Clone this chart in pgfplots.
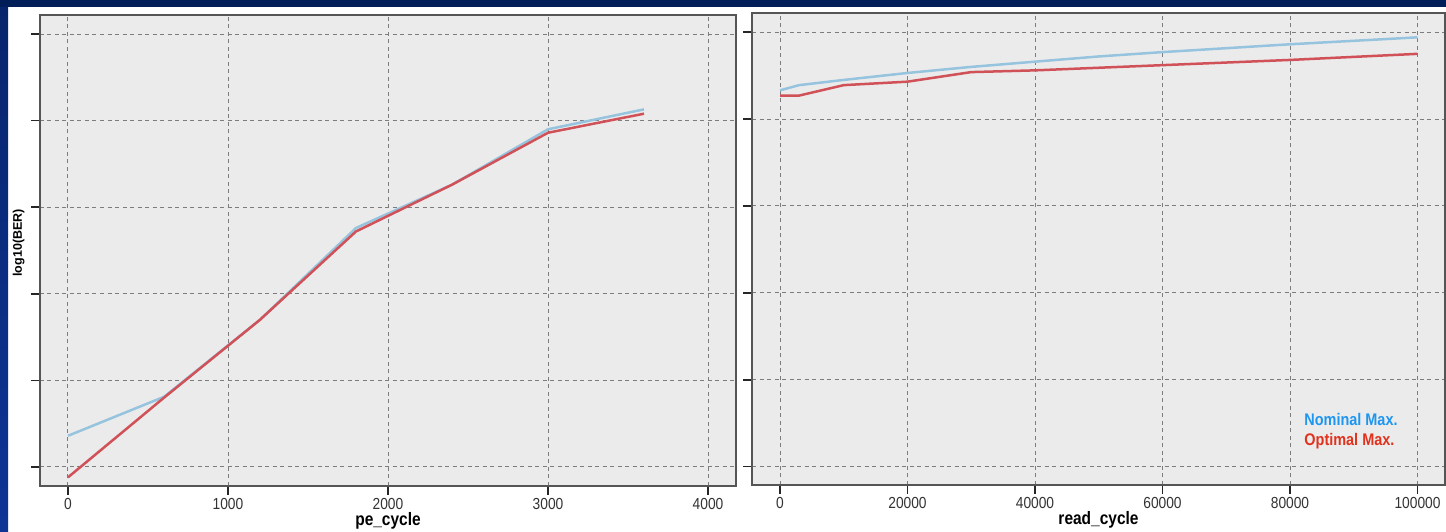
\documentclass[border=0pt]{standalone}
\usepackage{fontspec}
\setmainfont{Liberation Sans}
\newfontfamily\narrowsans[FakeStretch=0.86]{Liberation Sans}
\usepackage{pgfplots}
\usepackage{pgfplotstable}
\pgfplotsset{compat=1.18}

\definecolor{slidenavy}{RGB}{2,30,88}
\definecolor{stripTop}{RGB}{8,36,108}
\definecolor{stripBot}{RGB}{14,52,150}
\definecolor{panelbg}{RGB}{235,235,235}
\definecolor{gridc}{RGB}{125,125,125}
\definecolor{framec}{RGB}{85,85,85}
\definecolor{nomline}{RGB}{150,196,222}
\definecolor{optline}{RGB}{208,82,88}
\definecolor{nomtext}{RGB}{30,150,240}
\definecolor{opttext}{RGB}{225,50,30}

% log10(BER) against program/erase cycles
\pgfplotstableread{
pe    nominal optimal
0     0.36    -0.12
600   0.81    0.80
1200  1.70    1.70
1800  2.76    2.72
2400  3.26    3.26
3000  3.90    3.86
3600  4.13    4.08
}\pecycle

% log10(BER) against read cycles
\pgfplotstableread{
rd      nominal optimal
0       4.33    4.27
3000    4.39    4.27
10000   4.45    4.39
20000   4.53    4.43
30000   4.60    4.54
40000   4.66    4.56
50000   4.72    4.59
60000   4.77    4.62
80000   4.86    4.68
100000  4.94    4.75
}\readcycle

\pgfplotsset{
  panel/.style={
    scale only axis, anchor=south west,
    axis background/.style={fill=panelbg},
    axis line style={framec, line width=1.5pt},
    grid=major,
    major grid style={gridc, line width=1pt, dash pattern=on 4pt off 3.5pt},
    tick align=outside, xtick pos=bottom, ytick pos=left,
    major tick length=9pt,
    every tick/.style={black!85, line width=1.5pt},
    ytick={0,1,2,3,4,5}, yticklabels={},
    scaled ticks=false,
    ticklabel style={font=\narrowsans\fontsize{16}{18}\selectfont, text=black!80},
    every axis x label/.style={at={(axis description cs:0.5,-0.0743)}, anchor=center,
      font=\narrowsans\bfseries\fontsize{18}{20}\selectfont},
    every axis y label/.style={at={(axis description cs:-0.0172,0.516)}, rotate=90, anchor=south,
      font=\bfseries\fontsize{12.5}{14}\selectfont},
  },
  nom/.style={nomline, line width=2.5pt, no marks},
  opt/.style={optline, line width=2.5pt, no marks},
}

\begin{document}
\begin{tikzpicture}[x=1pt,y=1pt]
\useasboundingbox (0,0) rectangle (1446,532);
\fill[white] (0,0) rectangle (1446,532);
\shade[top color=stripTop, bottom color=stripBot] (0,0) rectangle (8,532);
\fill[slidenavy] (0,525) rectangle (1446,532);

\begin{axis}[panel,
  at={(40pt,46pt)}, width=696pt, height=471pt,
  xmin=-175, xmax=4175, ymin=-0.22, ymax=5.22,
  xtick={0,1000,2000,3000,4000},
  xticklabels={0,1000,2000,3000,4000},
  xlabel={pe\_cycle}, ylabel={log10(BER)}]
\addplot[nom] table[x=pe, y=nominal] {\pecycle};
\addplot[opt] table[x=pe, y=optimal] {\pecycle};
\end{axis}

\begin{axis}[panel,
  at={(752pt,47pt)}, width=693pt, height=472pt,
  xmin=-4392, xmax=104314, ymin=-0.21, ymax=5.22,
  xtick={0,20000,40000,60000,80000,100000},
  xticklabels={0,20000,40000,60000,80000,100000},
  xlabel={read\_cycle},
  legend style={draw=none, fill=none, at={(axis description cs:0.794,0.156)},
    anchor=north west, inner sep=0pt, row sep=2.5pt,
    font=\narrowsans\bfseries\fontsize{16.8}{19}\selectfont},
  legend cell align=left,
  legend image code/.code={}]
\addplot[nom] table[x=rd, y=nominal] {\readcycle};
\addlegendentry{\textcolor{nomtext}{Nominal Max.}}
\addplot[opt] table[x=rd, y=optimal] {\readcycle};
\addlegendentry{\textcolor{opttext}{Optimal Max.}}
\end{axis}
\end{tikzpicture}
\end{document}
